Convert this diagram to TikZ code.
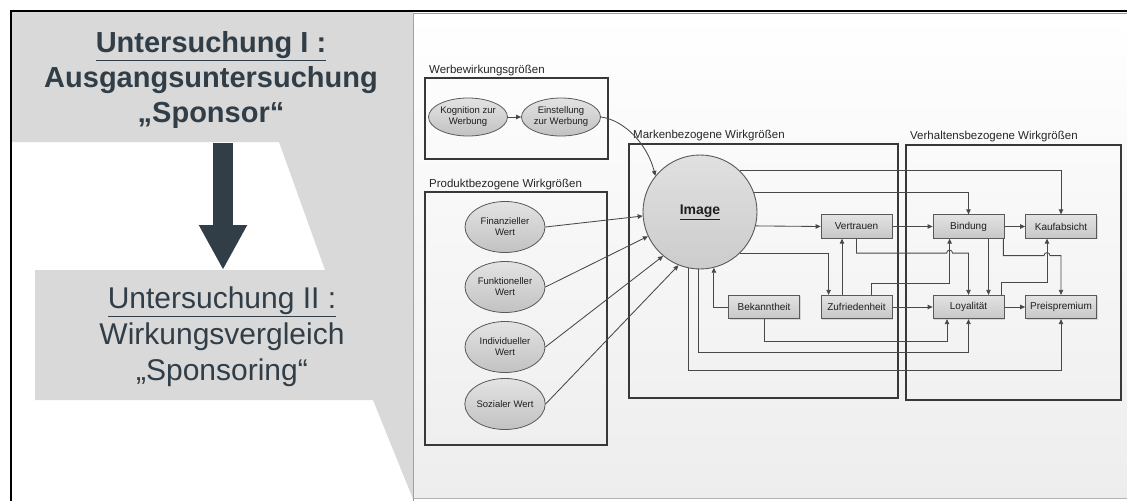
\documentclass[tikz,border=0pt]{standalone}
\usepackage{fontspec}
\setmainfont{Liberation Sans}
\usetikzlibrary{arrows.meta,shapes.geometric,shadows,calc}
\definecolor{slate}{RGB}{49,62,72}
\definecolor{callout}{RGB}{217,217,217}
\definecolor{linegray}{RGB}{72,72,72}
\begin{document}
\begin{tikzpicture}[x=1pt,y=-1pt,
  grp/.style={draw=black!78,line width=1.6pt},
  grplabel/.style={anchor=base west,inner sep=0pt,font=\fontsize{11.5}{13}\selectfont,text=black!85},
  box/.style={rectangle,draw=black!65,line width=0.8pt,top color=black!11,bottom color=black!22,
    minimum width=71pt,minimum height=23.5pt,inner sep=0pt,font=\fontsize{10}{12}\selectfont,text=black!88,
    drop shadow={shadow xshift=1pt,shadow yshift=-1pt,opacity=0.25}},
  ell/.style={ellipse,draw=black!65,line width=0.8pt,top color=black!11,bottom color=black!24,
    inner sep=0pt,align=center,font=\fontsize{9.5}{11}\selectfont,text=black!88},
  conn/.style={draw=linegray,line width=0.85pt,-{Triangle[length=5pt,width=4.5pt]}},
  bigarrow/.style={draw=slate,line width=20pt,-{Triangle[length=45pt,width=45pt]}},
]
\useasboundingbox (0,0) rectangle (1127,501);
\fill[white] (0,0) rectangle (1127,501);

% right-hand panel with the model
\shade[top color=white,bottom color=black!7] (413,13) rectangle (1127,498);
\draw[black!40,line width=0.8pt] (1127,13.5) -- (413.5,13.5) -- (413.5,501);
\draw[black!30,line width=0.8pt] (413.5,498.5) -- (1127,498.5);

% grey call-out bands on the left
\fill[callout] (12,12) -- (413,12) -- (413,499) -- (373,400) -- (35,400) -- (35,270)
  -- (325,270) -- (279,142) -- (12,142) -- cycle;

% outer frame
\draw[black,line width=1.6pt] (11,501) -- (11,11) -- (1127,11);

% study headings
\node[anchor=north,inner sep=0pt,align=center,text=slate,font=\bfseries\fontsize{29}{35}\selectfont]
  (studyA) at (211,31) {\underline{Untersuchung I :}\\Ausgangsuntersuchung\\„Sponsor“};
\node[anchor=north,inner sep=0pt,align=center,text=slate,font=\fontsize{30}{36}\selectfont]
  (studyB) at (222,287) {\underline{Untersuchung II :}\\Wirkungsvergleich\\„Sponsoring“};
\coordinate (arrowTop) at (223,143);
\coordinate (arrowTip) at (223,270);
\draw[bigarrow] (arrowTop) -- (arrowTip);

% group frames
\draw[grp] (425,78) rectangle (608,159);
\draw[grp] (425,192) rectangle (607,445);
\draw[grp] (629,144) rectangle (898,398);
\draw[grp] (906,145) rectangle (1121,400);
\node[grplabel] (lWerbe) at (429,73) {Werbewirkungsgrößen};
\node[grplabel] (lProdukt) at (429,187) {Produktbezogene Wirkgrößen};
\node[grplabel] (lMarke) at (633,138) {Markenbezogene Wirkgrößen};
\node[grplabel] (lVerhalten) at (910,139) {Verhaltensbezogene Wirkgrößen};

% advertising effects
\node[ell,minimum width=79pt,minimum height=38pt] (kog) at (468,117) {Kognition zur\\Werbung};
\node[ell,minimum width=79pt,minimum height=38pt] (ein) at (561,117) {Einstellung\\zur Werbung};

% product-related values
\node[ell,minimum width=80pt,minimum height=51pt] (fin) at (505,227) {Finanzieller\\Wert};
\node[ell,minimum width=80pt,minimum height=51pt] (fun) at (505,287) {Funktioneller\\Wert};
\node[ell,minimum width=80pt,minimum height=51pt] (ind) at (505,347) {Individueller\\Wert};
\node[ell,minimum width=80pt,minimum height=51pt] (soz) at (505,404) {Sozialer Wert};

% brand-related values
\node[circle,draw=black!65,line width=0.9pt,top color=black!12,bottom color=black!20,
  minimum size=114pt,inner sep=0pt,text=black!88,font=\bfseries\fontsize{14}{16}\selectfont]
  (img) at (700,212) {\underline{Image}};
\node[box] (ver) at (856.5,226.5) {Vertrauen};
\node[box] (zuf) at (856.5,307) {Zufriedenheit};
\node[box] (bek) at (764,307) {Bekanntheit};

% behaviour-related values
\node[box] (bin) at (968.5,226.5) {Bindung};
\node[box] (kau) at (1061,226.5) {Kaufabsicht};
\node[box] (loy) at (968.5,307) {Loyalität};
\node[box] (pre) at (1061,307) {Preispremium};

% x positions of the two risers that other lines hop over
\coordinate (zbx) at ([xshift=17pt]bin.south west);
\coordinate (lkx) at ([xshift=-14pt]kau.south);

% connectors
\draw[conn] (kog.east) -- (ein.west);
\draw[conn] (ein.east) .. controls +(23,3) and +(-8,-32) .. (img.141.5);
\draw[conn] (fin.east) -- (img.184);
\draw[conn] (fun.east) -- (img.205);
\draw[conn] (ind.east) -- (img.230);
\draw[conn] (soz.east) -- (img.248);

\draw[conn] (img.46) -| (kau.north);
\draw[conn] (img.20.5) -| (bin.north);
\draw[conn] (img.-14.7) -- (ver.west);
\draw[conn] (img.-46) -| ([xshift=8pt]zuf.north west);
\draw[conn] ([xshift=-14.5pt]zuf.north) -- ([xshift=-14.5pt]ver.south);
\draw[conn] (ver.east) -- (bin.west);
\draw[conn] (zuf.east) -- (loy.west);
\draw[conn] (bin.east) -- (kau.west);
\draw[conn] (loy.east) -- (pre.west);
\draw[conn] ([xshift=20pt]bin.south) -- ([xshift=20pt]loy.north);
\draw[conn] ([xshift=-21pt]zuf.north east) -- ++(0,-11) -| (zbx);
\draw[conn] ([xshift=-3pt]loy.north east) -- ++(0,-12) -| (lkx);
\draw[conn] (ver.south) -- ++(0,14.5) coordinate (h1) -- ($(h1 -| zbx)+(-3,0)$)
  .. controls +(0,-4) and +(0,-4) .. ++(6,0) -| (loy.north);
\draw[conn] ([xshift=-1pt]bin.south east) -- ++(0,17) coordinate (h2) -- ($(h2 -| lkx)+(-3,0)$)
  .. controls +(0,-4) and +(0,-4) .. ++(6,0) -| (pre.north);

\draw[conn] (bek.west) -| (img.-76.8);
\draw[conn] (bek.south) -- ++(0,22) -| ([xshift=-21.5pt]loy.south);
\draw[conn] (img.-92) -- ++(0,83) -| (loy.south);
\draw[conn] (img.-102.2) -- ++(0,102.3) -| (pre.south);
\end{tikzpicture}
\end{document}
